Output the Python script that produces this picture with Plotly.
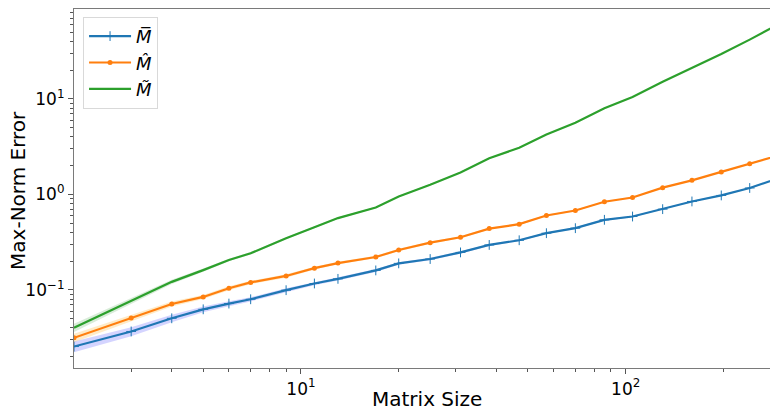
import plotly.graph_objects as go

# Matrix sizes (last value lies just beyond the visible right edge)
sizes = [2, 3, 4, 5, 6, 7, 9, 11, 13, 17, 20, 25, 31, 38, 47, 57, 70, 86, 105, 130, 160, 197, 241, 295]

err_bar = [0.0255, 0.0367, 0.0504, 0.0626, 0.0719, 0.0798, 0.0993, 0.1167, 0.1305, 0.160, 0.1896,
           0.2105, 0.247, 0.2958, 0.331, 0.3925, 0.443, 0.542, 0.587, 0.701, 0.844, 0.976, 1.168, 1.47]
err_hat = [0.0315, 0.0507, 0.0712, 0.0844, 0.1042, 0.1197, 0.140, 0.169, 0.191, 0.221, 0.262,
           0.3126, 0.356, 0.4386, 0.488, 0.601, 0.679, 0.838, 0.929, 1.177, 1.404, 1.72, 2.10, 2.56]
err_tilde = [0.0402, 0.0766, 0.1214, 0.161, 0.2055, 0.2416, 0.3475, 0.454, 0.565, 0.730, 0.953,
             1.265, 1.70, 2.39, 3.08, 4.25, 5.64, 7.98, 10.5, 15.1, 21.0, 29.5, 41.8, 60.4]

# relative spread of the shaded bands
spread_bar = [0.13, 0.11, 0.09, 0.07, 0.06, 0.05, 0.05, 0.04, 0.04, 0.035, 0.03, 0.03, 0.03, 0.025,
              0.025, 0.02, 0.02, 0.02, 0.02, 0.02, 0.015, 0.015, 0.015, 0.015]
spread_hat = [0.10, 0.08, 0.06, 0.05, 0.05, 0.04, 0.04, 0.035, 0.03, 0.03, 0.03, 0.025, 0.025, 0.02,
              0.02, 0.02, 0.02, 0.015, 0.015, 0.015, 0.015, 0.015, 0.015, 0.015]
spread_tilde = [0.10, 0.08, 0.05, 0.04, 0.03, 0.03, 0.025, 0.02, 0.02, 0.02, 0.015, 0.015, 0.015, 0.015,
                0.01, 0.01, 0.01, 0.01, 0.01, 0.01, 0.01, 0.01, 0.01, 0.01]

labels = ["<i>M\u0305</i>", "<i>M\u0302</i>", "<i>M\u0303</i>"]
line_colors = ["#1f77b4", "#ff7f0e", "#2ca02c"]
band_colors = ["rgba(0,0,255,0.17)", "rgba(255,165,0,0.22)", "rgba(0,128,0,0.15)"]

fig = go.Figure()

series = [(err_bar, spread_bar), (err_hat, spread_hat), (err_tilde, spread_tilde)]
for (vals, spr), bc in zip(series, band_colors):
    upper = [v * (1 + s) for v, s in zip(vals, spr)]
    lower = [v * (1 - s) for v, s in zip(vals, spr)]
    fig.add_trace(go.Scatter(x=sizes, y=upper, mode="lines", line=dict(width=0),
                             showlegend=False, hoverinfo="skip"))
    fig.add_trace(go.Scatter(x=sizes, y=lower, mode="lines", line=dict(width=0),
                             fill="tonexty", fillcolor=bc, showlegend=False, hoverinfo="skip"))

fig.add_trace(go.Scatter(x=sizes, y=err_bar, name=labels[0], mode="lines+markers", legendgroup="a",
                         line=dict(color=line_colors[0], width=2.2),
                         marker=dict(symbol="cross-thin", size=7,
                                     line=dict(color=line_colors[0], width=1))))
fig.add_trace(go.Scatter(x=sizes, y=err_hat, name=labels[1], mode="lines+markers", legendgroup="b",
                         line=dict(color=line_colors[1], width=2.2),
                         marker=dict(symbol="circle", size=5, color=line_colors[1])))
fig.add_trace(go.Scatter(x=sizes, y=err_tilde, name=labels[2], mode="lines", legendgroup="c",
                         line=dict(color=line_colors[2], width=2.2)))

axis_font = dict(family="DejaVu Sans", size=17, color="black")
minor_common = dict(ticks="outside", ticklen=3, tickwidth=0.8, tickcolor="#555")

fig.update_layout(
    width=770, height=409,
    margin=dict(l=74, r=0, t=9, b=41, autoexpand=False),
    paper_bgcolor="white", plot_bgcolor="white",
    font=dict(family="DejaVu Sans", size=16, color="black"),
    showlegend=True,
    legend=dict(x=0.013, y=0.978, xanchor="left", yanchor="top", traceorder="normal",
                bgcolor="rgba(255,255,255,0.8)", bordercolor="#d9d9d9", borderwidth=1,
                font=dict(family="DejaVu Sans", size=18, color="black"),
                tracegroupgap=0, itemwidth=42),
    xaxis=dict(type="log", range=[0.30103, 2.4445], automargin=False,
               showline=True, linecolor="#7a7a7a", linewidth=1.2, mirror=True,
               showgrid=False, zeroline=False,
               ticks="outside", ticklen=5, tickwidth=1, tickcolor="#555",
               tickvals=[10, 100], ticktext=["10<sup>1</sup>", "10<sup>2</sup>"],
               tickfont=axis_font,
               minor=dict(tickvals=[3, 4, 5, 6, 7, 8, 9, 20, 30, 40, 50, 60, 70, 80, 90, 200],
                          **minor_common)),
    yaxis=dict(type="log", range=[-1.818, 1.942], automargin=False,
               showline=True, linecolor="#7a7a7a", linewidth=1.2, mirror=False,
               showgrid=False, zeroline=False,
               ticks="outside", ticklen=5, tickwidth=1, tickcolor="#555",
               tickvals=[0.1, 1, 10], ticktext=["10<sup>\u22121</sup>", "10<sup>0</sup>", "10<sup>1</sup>"],
               tickfont=axis_font,
               minor=dict(tickvals=[0.02, 0.03, 0.04, 0.05, 0.06, 0.07, 0.08, 0.09,
                                    0.2, 0.3, 0.4, 0.5, 0.6, 0.7, 0.8, 0.9,
                                    2, 3, 4, 5, 6, 7, 8, 9, 20, 30, 40, 50, 60, 70, 80],
                          **minor_common)),
    annotations=[
        dict(text="Matrix Size", xref="paper", yref="paper", x=0.507, y=-0.085,
             xanchor="center", yanchor="middle", showarrow=False,
             font=dict(family="DejaVu Sans", size=20, color="black")),
        dict(text="Max-Norm Error", xref="paper", yref="paper", x=-0.0805, y=0.496,
             xanchor="center", yanchor="middle", textangle=-90, showarrow=False,
             font=dict(family="DejaVu Sans", size=20, color="black")),
    ],
)

# remove the default page margin so the figure fills the 770x409 window exactly
fig.write_html("out.html", config={"displayModeBar": False},
               post_script="document.body.style.margin='0px';document.body.style.overflow='hidden';")
